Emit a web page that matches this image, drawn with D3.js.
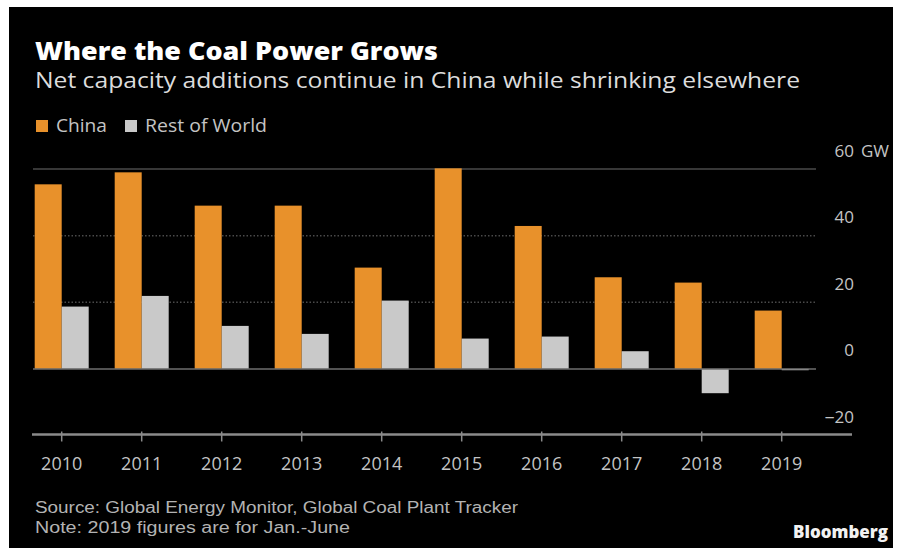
<!DOCTYPE html>
<html>
<head>
<meta charset="utf-8">
<script src="https://cdn.jsdelivr.net/npm/d3@7"></script>
<style>
  html, body { margin: 0; padding: 0; background: #ffffff; }
  svg { display: block; }
  text { font-family: "Open Sans", "Noto Sans", "DejaVu Sans", sans-serif; }
  text.note { font-family: "Liberation Sans", Arial, sans-serif; }
</style>
</head>
<body>
<svg id="chart" width="901" height="548"></svg>
<script>
// Net coal capacity additions, GW
const years = ["2010", "2011", "2012", "2013", "2014", "2015", "2016", "2017", "2018", "2019"];
const seriesNames = ["China", "Rest of World"];
const chinaValues = [55.4, 59.0, 49.0, 49.0, 30.4, 60.2, 42.9, 27.5, 25.9, 17.5];
const restOfWorldValues = [18.7, 21.9, 12.9, 10.5, 20.5, 9.1, 9.7, 5.3, -7.3, -0.4];
const yTicks = [-20, 0, 20, 40, 60];
const colors = { "China": "#e8912b", "Rest of World": "#c9c9c9" };

const svg = d3.select("#chart");

// dark panel
svg.append("rect").attr("x", 9).attr("y", 7).attr("width", 884).attr("height", 541).attr("fill", "#000000");

// heading
svg.append("text").attr("x", 35).attr("y", 60)
  .attr("fill", "#ffffff").attr("font-size", 25).attr("font-weight", 800)
  .attr("textLength", 403).attr("lengthAdjust", "spacingAndGlyphs")
  .text("Where the Coal Power Grows");
svg.append("text").attr("x", 35).attr("y", 88)
  .attr("fill", "#dcdcdc").attr("font-size", 21)
  .attr("textLength", 765).attr("lengthAdjust", "spacingAndGlyphs")
  .text("Net capacity additions continue in China while shrinking elsewhere");

// legend
const legend = [
  { name: "China", sx: 36, tx: 56, len: 51 },
  { name: "Rest of World", sx: 125, tx: 145, len: 122 }
];
const lg = svg.append("g");
lg.selectAll("rect").data(legend).join("rect")
  .attr("x", d => d.sx).attr("y", 120).attr("width", 12).attr("height", 12)
  .attr("fill", d => colors[d.name]);
lg.selectAll("text").data(legend).join("text")
  .attr("x", d => d.tx).attr("y", 132)
  .attr("fill", "#c4c4c4").attr("font-size", 18)
  .attr("textLength", d => d.len).attr("lengthAdjust", "spacingAndGlyphs")
  .text(d => d.name);

// scales
const y = d3.scaleLinear().domain([-20, 60]).range([435.5, 169]);
const x = d3.scaleBand().domain(years).range([21.7, 821.7]).paddingInner(0.325).paddingOuter(0.1625);
const xs = d3.scaleBand().domain(seriesNames).range([0, x.bandwidth()]);

// gridlines
const grid = svg.append("g");
grid.selectAll("line").data(yTicks.filter(v => v > 0)).join("line")
  .attr("x1", 33).attr("x2", 816)
  .attr("y1", d => y(d)).attr("y2", d => y(d))
  .attr("stroke", "#4a4a4a").attr("stroke-width", 1.5)
  .attr("stroke-dasharray", d => d === 60 ? null : "1.5,2");

// bars
const rows = years.map((yr, i) => ({ year: yr, values: [
  { key: "China", value: chinaValues[i] },
  { key: "Rest of World", value: restOfWorldValues[i] }
]}));
svg.append("g").selectAll("g").data(rows).join("g")
  .attr("transform", d => `translate(${x(d.year)},0)`)
  .selectAll("rect").data(d => d.values).join("rect")
  .attr("x", d => xs(d.key))
  .attr("width", xs.bandwidth())
  .attr("y", d => y(Math.max(0, d.value)))
  .attr("height", d => Math.abs(y(d.value) - y(0)))
  .attr("fill", d => colors[d.key]);

// zero line
svg.append("line").attr("x1", 33).attr("x2", 816)
  .attr("y1", y(0)).attr("y2", y(0))
  .attr("stroke", "#6e6e6e").attr("stroke-width", 1.5);

// value labels on the right
const yl = svg.append("g");
yl.selectAll("text").data(yTicks).join("text")
  .attr("x", 854).attr("y", d => y(d) - 12.5)
  .attr("text-anchor", "end")
  .attr("fill", "#c4c4c4").attr("font-size", 17)
  .text(d => d < 0 ? "\u2012" + Math.abs(d) : d);
yl.append("text").attr("x", 861).attr("y", y(60) - 12.5)
  .attr("fill", "#c4c4c4").attr("font-size", 17)
  .text("GW");

// category axis
svg.append("line").attr("x1", 32).attr("x2", 852)
  .attr("y1", y(-20) - 1).attr("y2", y(-20) - 1)
  .attr("stroke", "#8a8a8a").attr("stroke-width", 2.5);
const xAxis = svg.append("g")
  .attr("transform", `translate(0,${y(-20) - 1})`)
  .call(d3.axisBottom(x).tickSizeInner(7).tickSizeOuter(0).tickPadding(16));
xAxis.select(".domain").remove();
xAxis.selectAll(".tick line").attr("y1", -3).attr("stroke", "#8a8a8a").attr("stroke-width", 1.5);
xAxis.selectAll(".tick text")
  .attr("fill", "#c4c4c4").attr("font-size", 18)
  .attr("font-family", "\"Open Sans\", \"Noto Sans\", sans-serif");

// footnotes
svg.append("text").attr("class", "note").attr("x", 35).attr("y", 513)
  .attr("fill", "#b3b3b3").attr("font-size", 16)
  .attr("textLength", 483).attr("lengthAdjust", "spacingAndGlyphs")
  .text("Source: Global Energy Monitor, Global Coal Plant Tracker");
svg.append("text").attr("class", "note").attr("x", 35).attr("y", 533)
  .attr("fill", "#b3b3b3").attr("font-size", 16)
  .attr("textLength", 315).attr("lengthAdjust", "spacingAndGlyphs")
  .text("Note: 2019 figures are for Jan.-June");
svg.append("text").attr("x", 793).attr("y", 538)
  .attr("fill", "#f2f2f2").attr("font-size", 17).attr("font-weight", 800)
  .attr("textLength", 95).attr("lengthAdjust", "spacingAndGlyphs")
  .text("Bloomberg");
</script>
</body>
</html>
